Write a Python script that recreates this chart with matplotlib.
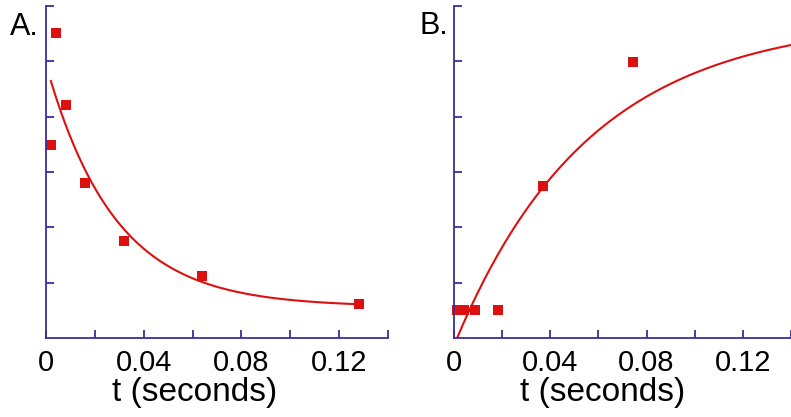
import numpy as np
import matplotlib
matplotlib.use("Agg")
import matplotlib.pyplot as plt

plt.rcParams["font.family"] = ["Liberation Sans", "DejaVu Sans"]

# Panel A: decay data
t_a = [0.002, 0.004, 0.008, 0.016, 0.032, 0.064, 0.128]
y_a = [3.49, 5.51, 4.21, 2.80, 1.75, 1.12, 0.61]
# exponential fit: y = c + a*exp(-t/tau)
fit_a = {"a": 4.38, "tau": 0.028, "c": 0.565, "t0": 0.002, "t1": 0.127}

# Panel B: rise data
t_b = [0.0012, 0.0043, 0.0088, 0.0182, 0.0368, 0.0743]
y_b = [0.51, 0.51, 0.51, 0.51, 2.75, 4.99]
# exponential fit: y = A*(1 - exp(-(t - t0)/tau))
fit_b = {"A": 5.78, "tau": 0.056, "t0": 0.0013, "t1": 0.14}

xt_major = [0, 0.04, 0.08, 0.12]
xt_labels = ["0", "0.04", "0.08", "0.12"]
xt_minor = [0.02, 0.06, 0.10, 0.14]
yt = [1, 2, 3, 4, 5, 6]

NAVY = "#3a2d9c"
RED = "#dd1010"

W, H = 791, 417
fig = plt.figure(figsize=(W / 100, H / 100), dpi=100)
ax_a = fig.add_axes([46 / W, (H - 338) / H, 342 / W, 332 / H])
ax_b = fig.add_axes([454 / W, (H - 338) / H, 337 / W, 332 / H])


def style(ax, xmax, lab_x):
    ax.set_xlim(0, xmax)
    ax.set_ylim(0, 6)
    for s in ["top", "right"]:
        ax.spines[s].set_visible(False)
    for s in ["left", "bottom"]:
        ax.spines[s].set_color(NAVY)
        ax.spines[s].set_linewidth(1.3)
    ax.set_xticks(xt_major)
    ax.set_xticklabels(xt_labels)
    ax.set_xticks(xt_minor, minor=True)
    ax.set_yticks(yt)
    ax.set_yticklabels([])
    ax.tick_params(which="both", direction="in", length=6, width=1.3,
                   color=NAVY, labelsize=21, pad=8)
    ax.set_xlabel("t (seconds)", fontsize=24)
    ax.xaxis.set_label_coords(lab_x, -0.118)
    ax.patch.set_alpha(0)


tt = np.linspace(fit_a["t0"], fit_a["t1"], 200)
ax_a.plot(tt, fit_a["c"] + fit_a["a"] * np.exp(-tt / fit_a["tau"]), color=RED, lw=1.5)
ax_a.plot(t_a, y_a, "s", color=RED, ms=7.5, mew=0, clip_on=False)
style(ax_a, 0.14, 0.436)

tt = np.linspace(fit_b["t0"], fit_b["t1"], 200)
ax_b.plot(tt, fit_b["A"] * (1 - np.exp(-(tt - fit_b["t0"]) / fit_b["tau"])), color=RED, lw=1.5)
ax_b.plot(t_b, y_b, "s", color=RED, ms=7.5, mew=0, clip_on=False)
style(ax_b, 337 / 2445, 0.442)

fig.text(10 / W, 1 - 35 / H, "A.", fontsize=22, va="baseline")
fig.text(419 / W, 1 - 34 / H, "B.", fontsize=22, va="baseline")

fig.savefig("out.png", dpi=100)
